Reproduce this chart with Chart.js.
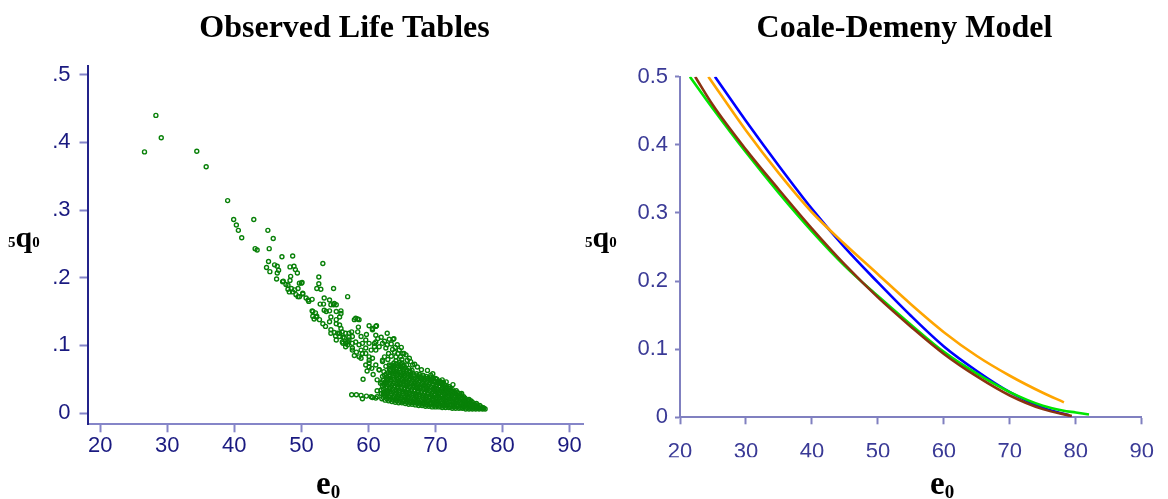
<!DOCTYPE html>
<html>
<head>
<meta charset="utf-8">
<script src="https://cdn.jsdelivr.net/npm/chart.js@4"></script>
<style>
  html, body { margin: 0; padding: 0; background: #fff; }
  #wrap { position: relative; width: 1168px; height: 499px; }
  #wrap canvas { position: absolute; left: 0; top: 0; }
</style>
</head>
<body>
<div id="wrap">
  <canvas id="observed" width="1168" height="499"></canvas>
  <canvas id="model" width="1168" height="499"></canvas>
</div>
<script>
// observed life tables: [e0, 5q0]
const earlyTables = [
  [26.6,0.386],[28.3,0.440],[29.1,0.407],[34.4,0.387],[35.8,0.364],[39.0,0.314],
  [39.9,0.286],[40.3,0.278],[40.6,0.270],[41.1,0.259],[42.9,0.286],[45.0,0.270],
  [45.8,0.258],[43.1,0.243],[43.4,0.241],[45.2,0.243],[47.1,0.231],[48.7,0.232]
];
const midTables = [
  [45.1,0.224],[44.8,0.215],[45.3,0.209],[46.0,0.219],[46.4,0.217],[46.6,0.211],[46.4,0.207],
  [46.3,0.198],[47.3,0.195],[47.2,0.194],[48.3,0.216],[48.9,0.217],[49.1,0.212],[49.4,0.207],
  [48.4,0.202],[48.3,0.196],[48.0,0.189],[48.5,0.184],[48.2,0.179],[49.0,0.182],[49.5,0.184],
  [49.7,0.192],[50.1,0.193],[49.2,0.175],[49.7,0.172],[50.2,0.176],[50.7,0.170],[51.6,0.168],
  [51.1,0.165],[51.0,0.167],[53.2,0.221],[52.6,0.201],[52.6,0.191],[52.3,0.184],[52.9,0.183],
  [54.8,0.184],[56.9,0.172],[53.4,0.170],[53.3,0.161],[52.8,0.161],[54.2,0.167],[54.8,0.160],
  [55.2,0.160],[51.6,0.151],[52.1,0.148],[51.7,0.143],[52.3,0.143],[51.9,0.139],[52.7,0.138],
  [53.4,0.152],[54.2,0.151],[55.2,0.150],[55.9,0.151],[54.4,0.142],[55.7,0.142],[53.2,0.132],
  [54.2,0.135],[55.2,0.132],[53.6,0.128],[55.9,0.125],[54.4,0.118],[55.1,0.114],[55.7,0.113],
  [54.4,0.123],[54.9,0.119],[55.7,0.118],[56.2,0.112],[50.0,0.192],[47.7,0.190],[48.0,0.183],
  [49.5,0.172],[48.7,0.179],[50.2,0.177],[51.7,0.150],[52.2,0.142],[53.7,0.150],[55.9,0.147],
  [55.2,0.138],[55.7,0.130],[54.9,0.162],[54.4,0.160]
];
const transitionTables = [
  [58.1,0.140],[58.6,0.138],[58.5,0.127],[57.5,0.120],[60.1,0.129],[61.2,0.129],[60.6,0.123],
  [62.8,0.118],[63.1,0.109],[63.7,0.109],[61.1,0.115],[59.6,0.108],[58.1,0.105],[57.1,0.112],
  [56.6,0.103],[57.6,0.096],[58.9,0.093],[59.6,0.088],[58.6,0.083],[60.1,0.078],[61.1,0.093],
  [61.6,0.098],[62.6,0.096],[64.6,0.093],[64.1,0.083],[62.1,0.078],[63.1,0.071],[60.1,0.068],
  [59.2,0.050],[61.6,0.064],[62.1,0.054],[62.6,0.044],[57.9,0.138],[58.4,0.139],[58.4,0.120],
  [58.9,0.113],[60.6,0.125],[61.1,0.128],[60.1,0.103],[61.1,0.105],[60.9,0.098],[56.6,0.118],
  [56.4,0.111],[57.1,0.108],[57.6,0.113],[56.2,0.103],[56.9,0.101],[56.1,0.120],[57.1,0.118],
  [55.4,0.118],[55.2,0.108],[56.1,0.105],[56.9,0.105],[57.6,0.103],[56.6,0.098],[57.6,0.093],
  [58.6,0.101],[59.1,0.103],[59.6,0.096],[60.4,0.093],[61.4,0.110],[63.8,0.110],[60.9,0.103],
  [62.1,0.103],[62.8,0.101],[64.3,0.101],[65.3,0.088],[66.1,0.081],[59.1,0.088],[58.9,0.081],
  [60.1,0.083],[60.6,0.081],[60.1,0.074],[61.1,0.071],[62.1,0.076],[61.6,0.064],[62.3,0.061],
  [62.8,0.049],[62.6,0.069],[63.3,0.064],[65.1,0.088],[65.6,0.086],[66.3,0.076],[66.6,0.071],
  [68.8,0.063],[68.1,0.056],[69.3,0.056],[70.0,0.051],[71.0,0.049],[70.8,0.046],[72.0,0.039],
  [73.9,0.029],[59.8,0.062],[60.7,0.057],[61.3,0.049],[61.8,0.044],[62.4,0.083],[63.0,0.088],
  [63.6,0.094],[64.0,0.097],[62.9,0.079],[63.4,0.084],[64.8,0.083],[65.0,0.079],[63.9,0.090],
  [64.4,0.088],[65.8,0.078],[59.6,0.071],[60.5,0.066],[58.2,0.090],[57.9,0.085],[59.7,0.116],
  [61.9,0.112],[62.4,0.106],[63.4,0.102],[64.9,0.097],[67.3,0.068],[67.9,0.064],[69.6,0.058],
  [71.6,0.046],[72.6,0.042],[66.9,0.072]
];
const lowerBand = [
  [57.5,0.027],[58.2,0.027],[58.9,0.026],[59.1,0.021],[59.7,0.025],[60.4,0.024],
  [60.6,0.023],[61.1,0.022],[61.3,0.033],[61.3,0.024],[61.9,0.029],[62.6,0.029]
];
const clusterTables = [
  [62.0,0.021],[62.2,0.028],[61.9,0.034],[62.1,0.040],[62.0,0.046],
  [62.5,0.019],[62.6,0.025],[62.4,0.031],[62.6,0.037],[62.5,0.044],[62.7,0.050],[62.4,0.056],
  [63.0,0.018],[63.1,0.024],[62.9,0.030],[63.1,0.036],[63.0,0.042],[62.9,0.048],[63.2,0.054],[63.0,0.060],[63.1,0.066],
  [63.5,0.017],[63.6,0.023],[63.4,0.029],[63.6,0.035],[63.5,0.041],[63.4,0.047],[63.6,0.053],[63.5,0.059],[63.7,0.065],[63.5,0.071],
  [64.0,0.016],[64.1,0.022],[63.9,0.028],[64.1,0.034],[64.0,0.040],[63.9,0.046],[64.2,0.052],[64.0,0.058],[64.1,0.064],[63.9,0.070],[64.1,0.077],
  [64.5,0.015],[64.4,0.021],[64.6,0.027],[64.5,0.033],[64.4,0.039],[64.6,0.045],[64.5,0.051],[64.4,0.057],[64.6,0.063],[64.5,0.069],[64.6,0.075],
  [65.0,0.015],[65.1,0.020],[64.9,0.026],[65.1,0.032],[65.0,0.038],[64.9,0.044],[65.1,0.050],[65.0,0.056],[65.2,0.062],[64.9,0.068],[65.0,0.074],
  [65.5,0.014],[65.4,0.019],[65.6,0.025],[65.5,0.031],[65.4,0.037],[65.6,0.043],[65.5,0.049],[65.4,0.055],[65.6,0.061],[65.5,0.067],[65.7,0.071],
  [66.0,0.013],[66.1,0.018],[65.9,0.024],[66.1,0.030],[66.0,0.036],[65.9,0.042],[66.1,0.048],[66.0,0.054],[66.2,0.060],[66.0,0.066],
  [66.5,0.013],[66.4,0.018],[66.6,0.023],[66.5,0.029],[66.4,0.035],[66.6,0.041],[66.5,0.047],[66.4,0.053],[66.6,0.059],[66.5,0.063],
  [67.0,0.012],[67.1,0.017],[66.9,0.022],[67.1,0.028],[67.0,0.034],[66.9,0.040],[67.1,0.046],[67.0,0.052],[67.2,0.058],
  [67.5,0.011],[67.4,0.016],[67.6,0.021],[67.5,0.027],[67.4,0.033],[67.6,0.039],[67.5,0.045],[67.4,0.051],[67.6,0.057],
  [68.0,0.011],[68.1,0.015],[67.9,0.020],[68.1,0.026],[68.0,0.032],[67.9,0.038],[68.1,0.044],[68.0,0.050],[68.2,0.055],
  [68.5,0.010],[68.4,0.015],[68.6,0.020],[68.5,0.025],[68.4,0.031],[68.6,0.037],[68.5,0.043],[68.4,0.049],[68.6,0.054],
  [69.0,0.010],[69.1,0.014],[68.9,0.019],[69.1,0.024],[69.0,0.030],[68.9,0.036],[69.1,0.042],[69.0,0.048],[69.2,0.053],
  [69.5,0.009],[69.4,0.014],[69.6,0.019],[69.5,0.024],[69.4,0.029],[69.6,0.035],[69.5,0.041],[69.4,0.047],[69.6,0.051],
  [70.0,0.009],[70.1,0.013],[69.9,0.018],[70.1,0.023],[70.0,0.028],[69.9,0.034],[70.1,0.040],[70.0,0.046],[70.2,0.050],
  [70.5,0.009],[70.4,0.013],[70.6,0.018],[70.5,0.023],[70.4,0.028],[70.6,0.033],[70.5,0.039],[70.4,0.044],[70.6,0.047],
  [71.0,0.008],[71.1,0.012],[70.9,0.017],[71.1,0.022],[71.0,0.027],[70.9,0.032],[71.1,0.037],[71.0,0.042],[71.2,0.045],
  [71.5,0.008],[71.4,0.012],[71.6,0.017],[71.5,0.022],[71.4,0.027],[71.6,0.032],[71.5,0.037],[71.4,0.041],
  [72.0,0.008],[72.1,0.012],[71.9,0.016],[72.1,0.021],[72.0,0.026],[71.9,0.031],[72.1,0.036],[72.0,0.039],
  [72.5,0.007],[72.4,0.011],[72.6,0.016],[72.5,0.021],[72.4,0.026],[72.6,0.031],[72.5,0.035],
  [73.0,0.007],[73.1,0.011],[72.9,0.015],[73.1,0.020],[73.0,0.025],[72.9,0.030],[73.1,0.033],
  [73.5,0.007],[73.4,0.011],[73.6,0.015],[73.5,0.019],[73.4,0.024],[73.6,0.029],
  [74.0,0.007],[74.1,0.010],[73.9,0.014],[74.1,0.018],[74.0,0.023],[73.9,0.027],
  [74.5,0.006],[74.4,0.010],[74.6,0.014],[74.5,0.018],[74.4,0.022],
  [75.0,0.006],[75.1,0.009],[74.9,0.013],[75.1,0.017],[75.0,0.020],
  [75.5,0.006],[75.4,0.009],[75.6,0.012],[75.5,0.016],
  [76.0,0.006],[76.1,0.009],[75.9,0.012],[76.1,0.014],
  [76.5,0.006],[76.4,0.008],[76.6,0.011],
  [77.0,0.006],[77.1,0.008],
  [77.4,0.006]
];
const clusterTablesB = [
  [62.25,0.023],[62.3,0.030],[62.2,0.036],[62.3,0.043],[62.2,0.049],
  [62.75,0.021],[62.8,0.027],[62.7,0.033],[62.8,0.039],[62.7,0.045],[62.8,0.052],[62.7,0.058],
  [63.25,0.020],[63.3,0.026],[63.2,0.032],[63.3,0.038],[63.2,0.044],[63.3,0.050],[63.2,0.057],[63.3,0.063],[63.2,0.069],
  [63.75,0.019],[63.8,0.025],[63.7,0.031],[63.8,0.038],[63.7,0.044],[63.8,0.050],[63.7,0.056],[63.8,0.062],[63.7,0.068],[63.8,0.074],
  [64.25,0.018],[64.3,0.024],[64.2,0.030],[64.3,0.037],[64.2,0.043],[64.3,0.049],[64.2,0.055],[64.3,0.061],[64.2,0.067],[64.3,0.073],
  [64.75,0.017],[64.8,0.023],[64.7,0.030],[64.8,0.036],[64.7,0.042],[64.8,0.048],[64.7,0.054],[64.8,0.060],[64.7,0.066],[64.8,0.072],
  [65.25,0.017],[65.3,0.023],[65.2,0.029],[65.3,0.035],[65.2,0.041],[65.3,0.047],[65.2,0.053],[65.3,0.059],[65.2,0.065],[65.3,0.071],
  [65.75,0.016],[65.8,0.022],[65.7,0.028],[65.8,0.034],[65.7,0.040],[65.8,0.046],[65.7,0.052],[65.8,0.058],[65.7,0.064],
  [66.25,0.015],[66.3,0.021],[66.2,0.027],[66.3,0.033],[66.2,0.039],[66.3,0.045],[66.2,0.051],[66.3,0.057],[66.2,0.062],
  [66.75,0.015],[66.8,0.020],[66.7,0.026],[66.8,0.032],[66.7,0.038],[66.8,0.044],[66.7,0.050],[66.8,0.056],
  [67.25,0.014],[67.3,0.019],[67.2,0.025],[67.3,0.031],[67.2,0.037],[67.3,0.043],[67.2,0.049],[67.3,0.055],
  [67.75,0.013],[67.8,0.018],[67.7,0.024],[67.8,0.030],[67.7,0.036],[67.8,0.042],[67.7,0.048],[67.8,0.053],
  [68.25,0.013],[68.3,0.018],[68.2,0.023],[68.3,0.029],[68.2,0.035],[68.3,0.041],[68.2,0.047],[68.3,0.052],
  [68.75,0.012],[68.8,0.017],[68.7,0.022],[68.8,0.028],[68.7,0.034],[68.8,0.040],[68.7,0.046],[68.8,0.051],
  [69.25,0.012],[69.3,0.016],[69.2,0.022],[69.3,0.027],[69.2,0.033],[69.3,0.039],[69.2,0.045],[69.3,0.050],
  [69.75,0.011],[69.8,0.016],[69.7,0.021],[69.8,0.026],[69.7,0.031],[69.8,0.037],[69.7,0.043],[69.8,0.048],
  [70.25,0.011],[70.3,0.015],[70.2,0.020],[70.3,0.025],[70.2,0.031],[70.3,0.036],[70.2,0.042],[70.3,0.046],
  [70.75,0.010],[70.8,0.015],[70.7,0.020],[70.8,0.025],[70.7,0.030],[70.8,0.035],[70.7,0.040],[70.8,0.044],
  [71.25,0.010],[71.3,0.014],[71.2,0.019],[71.3,0.024],[71.2,0.029],[71.3,0.034],[71.2,0.039],[71.3,0.042],
  [71.75,0.010],[71.8,0.014],[71.7,0.019],[71.8,0.024],[71.7,0.029],[71.8,0.034],[71.7,0.038],
  [72.25,0.009],[72.3,0.013],[72.2,0.018],[72.3,0.023],[72.2,0.028],[72.3,0.033],[72.2,0.036],
  [72.75,0.009],[72.8,0.013],[72.7,0.018],[72.8,0.023],[72.7,0.028],[72.8,0.032],
  [73.25,0.009],[73.3,0.013],[73.2,0.017],[73.3,0.022],[73.2,0.027],[73.3,0.030],
  [73.75,0.008],[73.8,0.012],[73.7,0.016],[73.8,0.021],[73.7,0.025],
  [74.25,0.008],[74.3,0.012],[74.2,0.016],[74.3,0.020],[74.2,0.024],
  [74.75,0.008],[74.8,0.011],[74.7,0.015],[74.8,0.019],
  [75.25,0.007],[75.3,0.011],[75.2,0.014],[75.3,0.018],
  [75.75,0.007],[75.8,0.010],[75.7,0.013],
  [76.25,0.007],[76.3,0.010],[76.2,0.012],
  [76.75,0.007],[76.8,0.009],
  [77.2,0.007]
];

// Coale-Demeny model curves, e0 and 5q0
const blueE0   = [25.3, 30, 35, 40, 45, 50, 55, 60, 65, 70, 75, 79];
const blueQ    = [0.500, 0.435, 0.369, 0.306, 0.249, 0.198, 0.149, 0.104, 0.068, 0.037, 0.014, 0.003];
const orangeE0 = [24.3, 30, 35, 40, 45, 50, 55, 60, 65, 70, 75, 78.2];
const orangeQ  = [0.500, 0.421, 0.358, 0.301, 0.254, 0.210, 0.166, 0.125, 0.090, 0.061, 0.036, 0.022];
const greenE0  = [21.5, 25, 30, 35, 40, 45, 50, 55, 60, 65, 70, 75, 78, 80, 82];
const greenQ   = [0.500, 0.453, 0.389, 0.329, 0.273, 0.222, 0.178, 0.136, 0.096, 0.064, 0.037, 0.017, 0.010, 0.007, 0.004];
const brownE0  = [22.3, 25, 30, 35, 40, 45, 50, 55, 60, 65, 70, 75, 79.4];
const brownQ   = [0.500, 0.458, 0.393, 0.334, 0.277, 0.224, 0.176, 0.133, 0.093, 0.060, 0.032, 0.012, 0.002];

// tick values and labels
const e0Ticks = [20, 30, 40, 50, 60, 70, 80, 90];
const qTicks = [0, 0.1, 0.2, 0.3, 0.4, 0.5];
const observedQLabels = ['0', '.1', '.2', '.3', '.4', '.5'];
const modelQLabels = ['0', '0.1', '0.2', '0.3', '0.4', '0.5'];

const SERIF = '"Liberation Serif", "Times New Roman", serif';
const SANS = '"Liberation Sans", Arial, sans-serif';

function toPoints(pairs) {
  return pairs.map(p => ({ x: p[0], y: p[1] }));
}
function zipPoints(xs, ys) {
  return xs.map((x, i) => ({ x: x, y: ys[i] }));
}

// write a row of text runs in different fonts, left to right
function drawRuns(ctx, x, y, runs) {
  ctx.textAlign = 'left';
  ctx.textBaseline = 'alphabetic';
  runs.forEach(r => {
    ctx.font = r[1];
    ctx.fillText(r[0], x, y + (r[2] || 0));
    x += ctx.measureText(r[0]).width;
  });
}

const panelText = {
  id: 'panelText',
  afterDraw(chart, args, opts) {
    const ctx = chart.ctx;
    ctx.save();
    ctx.fillStyle = '#000';
    ctx.textAlign = 'center';
    ctx.textBaseline = 'alphabetic';
    ctx.font = 'bold 32px ' + SERIF;
    ctx.fillText(opts.title, opts.titleX, 37);
    drawRuns(ctx, opts.yLabelX, 247, [
      ['5', 'bold 15px ' + SERIF],
      ['q', 'bold 30px ' + SERIF],
      ['0', 'bold 15px ' + SERIF]
    ]);
    drawRuns(ctx, opts.xLabelX, 494, [
      ['e', 'bold 33px ' + SERIF],
      ['0', 'bold 19px ' + SERIF, 4]
    ]);
    ctx.restore();
  }
};

function axisStyle(lineColor, labelColor, tickLen, pad) {
  return {
    border: { display: true, color: lineColor, width: 2 },
    grid: { display: true, drawOnChartArea: false, drawTicks: true, tickLength: tickLen, tickWidth: 2, tickColor: lineColor },
    ticks: { color: labelColor, font: { family: SANS, size: 22 }, padding: pad, maxRotation: 0, autoSkip: false }
  };
}

// left panel: observed life tables
const obsX = axisStyle('#8585c8', '#1a1a80', 8, 0);
const obsY = axisStyle('#8585c8', '#1a1a80', 8, 9);
obsY.border.color = '#23238a';
obsY.ticks.callback = (v, i) => observedQLabels[i];

new Chart(document.getElementById('observed'), {
  type: 'scatter',
  data: {
    datasets: [{
      data: toPoints(earlyTables.concat(midTables, transitionTables, lowerBand, clusterTables, clusterTablesB)),
      pointRadius: 2,
      pointBorderWidth: 1.4,
      pointBorderColor: '#088008',
      pointBackgroundColor: 'rgba(0,0,0,0)'
    }]
  },
  options: {
    responsive: false,
    devicePixelRatio: 1,
    animation: false,
    layout: { padding: { left: 0, top: 66, right: 585, bottom: 34.7 } },
    plugins: {
      legend: { display: false },
      tooltip: { enabled: false },
      panelText: { title: 'Observed Life Tables', titleX: 344.5, yLabelX: 8, xLabelX: 316 }
    },
    scales: {
      x: Object.assign(obsX, {
        type: 'linear', min: 18.1, max: 92,
        afterBuildTicks: s => { s.ticks = e0Ticks.map(v => ({ value: v })); },
        afterFit: s => { s.height = 40; }
      }),
      y: Object.assign(obsY, {
        type: 'linear', min: -0.0167, max: 0.513,
        afterBuildTicks: s => { s.ticks = qTicks.map(v => ({ value: v })); },
        afterFit: s => { s.width = 87.5; }
      })
    }
  },
  plugins: [panelText]
});

// right panel: model life table curves
const modX = axisStyle('#8080c0', '#3a3a96', 7, 14);
const modY = axisStyle('#8080c0', '#3a3a96', 5, 7);
modY.ticks.callback = (v, i) => modelQLabels[i];

function curve(xs, ys, color) {
  return {
    data: zipPoints(xs, ys),
    showLine: true,
    borderColor: color,
    borderWidth: 2.6,
    pointRadius: 0,
    cubicInterpolationMode: 'monotone',
    fill: false
  };
}

new Chart(document.getElementById('model'), {
  type: 'scatter',
  data: {
    datasets: [
      curve(blueE0, blueQ, '#0000ff'),
      curve(orangeE0, orangeQ, '#ffa500'),
      curve(greenE0, greenQ, '#00e600'),
      curve(brownE0, brownQ, '#8b3310')
    ].reverse()
  },
  options: {
    responsive: false,
    devicePixelRatio: 1,
    animation: false,
    layout: { padding: { left: 580, top: 76.7, right: 14, bottom: 41.7 } },
    plugins: {
      legend: { display: false },
      tooltip: { enabled: false },
      panelText: { title: 'Coale-Demeny Model', titleX: 904.5, yLabelX: 585, xLabelX: 930 }
    },
    scales: {
      x: Object.assign(modX, {
        type: 'linear', min: 20, max: 90,
        afterBuildTicks: s => { s.ticks = e0Ticks.map(v => ({ value: v })); },
        afterFit: s => { s.height = 40; }
      }),
      y: Object.assign(modY, {
        type: 'linear', min: 0, max: 0.5,
        afterBuildTicks: s => { s.ticks = qTicks.map(v => ({ value: v })); },
        afterFit: s => { s.width = 100; }
      })
    }
  },
  plugins: [panelText]
});
</script>
</body>
</html>
